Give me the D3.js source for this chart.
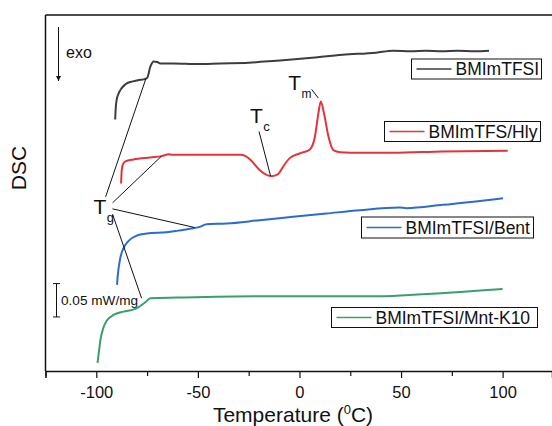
<!DOCTYPE html>
<html>
<head>
<meta charset="utf-8">
<script src="https://cdn.jsdelivr.net/npm/d3@7"></script>
<style>
  html, body { margin: 0; padding: 0; background: #fff; }
  svg { display: block; font-family: "Liberation Sans", Arial, sans-serif; }
</style>
</head>
<body>
<svg id="chart" width="552" height="426"></svg>
<script>
// DSC heating traces, heat flow offset per sample (mW/mg, stacked)
const seriesNames = ["BMImTFSI", "BMImTFS/Hly", "BMImTFSI/Bent", "BMImTFSI/Mnt-K10"];
const seriesColors = ["#3d3d3d", "#e4343a", "#2b6dcf", "#38a06a"];

const tempBMImTFSI = [-90.7, -90.4, -90.0, -89.0, -87.5, -85.0, -82.0, -79.0, -76.7, -75.0, -73.4, -71.8, -70.0, -68.5, -62.0, -50.0, -39.0, -25.0, -11.5, 4.8, 21.3, 37.7, 46.0, 55.0, 62.3, 70.0, 78.0, 86.0, 93.3];
const dscBMImTFSI  = [0.377, 0.395, 0.406, 0.416, 0.424, 0.431, 0.434, 0.436, 0.437, 0.439, 0.456, 0.464, 0.463, 0.461, 0.461, 0.460, 0.461, 0.462, 0.465, 0.469, 0.474, 0.477, 0.480, 0.479, 0.480, 0.479, 0.480, 0.479, 0.480];

const tempHly = [-87.8, -87.5, -87.0, -85.7, -81.7, -73.4, -67.7, -64.4, -62.8, -57.1, -45.0, -29.2, -26.5, -24.3, -19.5, -16.2, -13.7, -10.5, -8.1, -4.8, 0.1, 5.1, 7.6, 9.3, 10.5, 12.1, 14.3, 16.7, 20.0, 29.9, 45.9, 70.5, 102.5];
const dscHly  = [0.281, 0.300, 0.309, 0.314, 0.317, 0.320, 0.322, 0.325, 0.324, 0.324, 0.324, 0.324, 0.322, 0.317, 0.301, 0.294, 0.292, 0.295, 0.306, 0.319, 0.326, 0.332, 0.351, 0.386, 0.404, 0.386, 0.351, 0.331, 0.328, 0.327, 0.327, 0.329, 0.330];

const tempBent = [-89.8, -89.5, -88.2, -86.6, -84.1, -80.0, -75.1, -65.4, -60.5, -52.3, -49.0, -45.7, -35.9, -19.5, -3.1, 13.3, 29.7, 49.3, 52.6, 70.6, 100.2];
const dscBent  = [0.129, 0.141, 0.169, 0.184, 0.195, 0.203, 0.206, 0.208, 0.210, 0.214, 0.216, 0.220, 0.221, 0.226, 0.231, 0.236, 0.241, 0.245, 0.244, 0.249, 0.259];

const tempMnt = [-99.4, -98.9, -98.0, -96.6, -94.7, -91.5, -86.6, -80.8, -78.6, -75.9, -73.4, -60.3, -19.3, 37.7, 54.1, 100.0];
const dscMnt  = [0.012, 0.024, 0.046, 0.064, 0.076, 0.084, 0.089, 0.093, 0.097, 0.103, 0.109, 0.110, 0.112, 0.112, 0.114, 0.123];

const majorTicks = [-100, -50, 0, 50, 100];
const minorTicks = [-125, -75, -25, 25, 75];

// Transition labels: label anchor (temperature, heat flow) and pointer targets on the traces
const tgLabel = [-101.4, 0.236];
const tgPointers = [
  { from: [-95.4, 0.261], to: [-75.6, 0.438] },
  { from: [-92.0, 0.252], to: [-67.9, 0.322] },
  { from: [-92.0, 0.243], to: [-51.5, 0.215] },
  { from: [-92.0, 0.235], to: [-77.7, 0.109] }
];
const tcLabel = [-24.4, 0.371];
const tcPointer = { from: [-19.9, 0.359], to: [-14.2, 0.292] };
const tmLabel = [-5.5, 0.421];
const tmPointer = { from: [6.0, 0.422], to: [9.3, 0.409] };
const scaleBarValue = 0.05;

const svg = d3.select("#chart");
const x = d3.scaleLinear().domain([-125, 124.3]).range([45.5, 552]);
const y = d3.scaleLinear().domain([0, 0.5335]).range([371, 15]);

// frame: left and top edges
svg.append("line").attr("x1", x(-125)).attr("x2", x(-125)).attr("y1", y(0)).attr("y2", y(0.5335))
  .attr("stroke", "#111").attr("stroke-width", 1.5);
svg.append("line").attr("x1", x(-125)).attr("x2", 552).attr("y1", y(0.5335)).attr("y2", y(0.5335))
  .attr("stroke", "#111").attr("stroke-width", 1.5);

// bottom axis with major labelled ticks
const axisG = svg.append("g").attr("transform", `translate(0,${y(0)})`)
  .call(d3.axisBottom(x).tickValues(majorTicks).tickSize(7).tickPadding(8).tickFormat(d => String(d)));
axisG.select(".domain").attr("stroke", "#111").attr("stroke-width", 1.5);
axisG.selectAll(".tick line").attr("stroke", "#111").attr("stroke-width", 1.2);
axisG.selectAll(".tick text").attr("font-size", 16.5).attr("fill", "#111")
  .attr("font-family", "Liberation Sans, Arial, sans-serif");
// minor ticks
const minorG = svg.append("g").attr("transform", `translate(0,${y(0)})`)
  .call(d3.axisBottom(x).tickValues(minorTicks).tickSize(5).tickFormat(""));
minorG.select(".domain").remove();
minorG.selectAll(".tick line").attr("stroke", "#111").attr("stroke-width", 1.2);

// axis titles
const xt = svg.append("text").attr("x", 293).attr("y", 422).attr("text-anchor", "middle")
  .attr("font-size", 21).attr("fill", "#111");
xt.append("tspan").text("Temperature (");
xt.append("tspan").attr("font-size", 13).attr("dy", -8).text("0");
xt.append("tspan").attr("dy", 8).text("C)");
svg.append("text").attr("transform", "translate(26,168) rotate(-90)").attr("text-anchor", "middle")
  .attr("font-size", 21).attr("fill", "#111").text("DSC");

// exo arrow
svg.append("defs").append("marker").attr("id", "arrowhead").attr("viewBox", "0 0 10 10")
  .attr("refX", 10).attr("refY", 5).attr("markerWidth", 5).attr("markerHeight", 6)
  .attr("markerUnits", "userSpaceOnUse").attr("orient", "auto")
  .append("path").attr("d", "M0,0 L10,5 L0,10 Z").attr("fill", "#111");
svg.append("line").attr("x1", 58.5).attr("x2", 58.5).attr("y1", 27).attr("y2", 81)
  .attr("stroke", "#111").attr("stroke-width", 1).attr("marker-end", "url(#arrowhead)");
svg.append("text").attr("x", 66).attr("y", 57.5).attr("font-size", 16).attr("fill", "#111").text("exo");

// traces
const traces = [
  [tempBMImTFSI, dscBMImTFSI],
  [tempHly, dscHly],
  [tempBent, dscBent],
  [tempMnt, dscMnt]
];
const line = d3.line().x(d => x(d[0])).y(d => y(d[1])).curve(d3.curveMonotoneX);
traces.forEach(([t, v], i) => {
  svg.append("path").datum(t.map((tt, k) => [tt, v[k]]))
    .attr("fill", "none").attr("stroke", seriesColors[i]).attr("stroke-width", 2)
    .attr("stroke-linejoin", "round").attr("d", line);
});

// annotation pointers
function pointer(p) {
  svg.append("line").attr("x1", x(p.from[0])).attr("y1", y(p.from[1]))
    .attr("x2", x(p.to[0])).attr("y2", y(p.to[1]))
    .attr("stroke", "#111").attr("stroke-width", 1);
}
tgPointers.forEach(pointer);
pointer(tcPointer);
pointer(tmPointer);

function subLabel(pos, main, sub, size, subSize, dy) {
  const t = svg.append("text").attr("x", x(pos[0])).attr("y", y(pos[1]))
    .attr("font-size", size).attr("fill", "#111");
  t.append("tspan").text(main);
  t.append("tspan").attr("font-size", subSize).attr("dy", dy).attr("dx", 0.5).text(sub);
}
subLabel(tgLabel, "T", "g", 21, 13, 8);
subLabel(tcLabel, "T", "c", 21, 13, 8);
subLabel(tmLabel, "T", "m", 21, 12, 8);

// scale bar
const sbTop = y(0.131), sbBot = y(0.131 - scaleBarValue);
svg.append("line").attr("x1", 56.5).attr("x2", 56.5).attr("y1", sbTop).attr("y2", sbBot)
  .attr("stroke", "#111").attr("stroke-width", 1);
[sbTop, sbBot].forEach(yy => svg.append("line").attr("x1", 53).attr("x2", 60)
  .attr("y1", yy).attr("y2", yy).attr("stroke", "#111").attr("stroke-width", 1));
svg.append("text").attr("x", 61).attr("y", 304.5).attr("font-size", 13.6).attr("fill", "#111")
  .text(`${scaleBarValue} mW/mg`);

// legend boxes, one per trace
const legendBoxes = [
  { x: 411.5, y: 59, w: 130, h: 20 },
  { x: 384.5, y: 121.5, w: 156, h: 20 },
  { x: 361.5, y: 217, w: 172, h: 21 },
  { x: 331.5, y: 307.5, w: 206, h: 20 }
];
legendBoxes.forEach((b, i) => {
  const g = svg.append("g").attr("transform", `translate(${b.x},${b.y})`);
  g.append("rect").attr("width", b.w).attr("height", b.h).attr("fill", "#fff")
    .attr("stroke", "#111").attr("stroke-width", 1);
  g.append("line").attr("x1", 5).attr("x2", 40).attr("y1", b.h / 2).attr("y2", b.h / 2)
    .attr("stroke", seriesColors[i]).attr("stroke-width", 1.5);
  g.append("text").attr("x", 44).attr("y", b.h / 2 + 6).attr("font-size", 17.5).attr("fill", "#111")
    .text(seriesNames[i]);
});
</script>
</body>
</html>
